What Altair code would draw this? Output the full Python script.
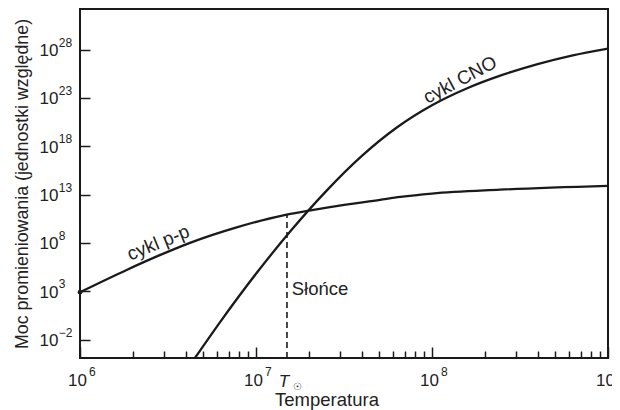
import altair as alt
import pandas as pd

# ---- data (exponents of ten) ----
PP_LOGT = [6.0, 6.265, 6.45, 6.625, 6.89, 7.155, 7.293, 7.42, 7.705, 7.82, 8.0, 8.386, 9.0]
PP_LOGP = [2.9, 5.2, 6.7, 8.0, 9.6, 10.85, 11.3, 11.7, 12.45, 12.75, 13.1, 13.5, 13.9]

CNO_LOGT = [6.653, 6.8, 7.0, 7.2, 7.4, 7.6, 7.8, 8.0, 8.2, 8.4, 8.6, 8.8, 9.0]
CNO_LOGP = [-3.91, -0.09, 4.8, 9.3, 13.38, 16.97, 19.93, 22.23, 23.99, 25.37, 26.49, 27.4, 28.1]

X_TICK_EXP = [6, 7, 8, 9]
X_MINOR_MULT = [2, 3, 4, 5, 6, 7, 8, 9]
Y_TICK_EXP = [-2, 3, 8, 13, 18, 23, 28]
X_DOMAIN_EXP = [6, 9]
Y_DOMAIN_EXP = [-3.91, 32.19]

SUN_LOGT = 7.176
SUN_TOP_LOGP = 10.92

LABELS = {
    "pp": ("cykl p-p", 6.445, 8.0),
    "cno": ("cykl CNO", 8.159, 24.85),
    "sun": ("Słońce", 7.203, 2.6),
}

X_TITLE = "Temperatura"
Y_TITLE = "Moc promieniowania (jednostki względne)"

# ---- style ----
INK = "#1a1a1a"
TXT = "#222222"
FONT = "Liberation Sans"

pp_df = pd.DataFrame({"T": [10 ** v for v in PP_LOGT], "P": [10 ** v for v in PP_LOGP]})
cno_df = pd.DataFrame({"T": [10 ** v for v in CNO_LOGT], "P": [10 ** v for v in CNO_LOGP]})
sun_df = pd.DataFrame({"T": [10 ** SUN_LOGT], "P0": [10 ** Y_DOMAIN_EXP[0]], "P1": [10 ** SUN_TOP_LOGP]})
dot_df = pd.DataFrame({"T": [10 ** PP_LOGT[0]], "P": [10 ** PP_LOGP[0]]})

x_major = [10.0 ** e for e in X_TICK_EXP]
x_minor = [m * 10.0 ** e for e in X_TICK_EXP[:-1] for m in X_MINOR_MULT]
y_major = [10.0 ** e for e in Y_TICK_EXP]

xs = alt.Scale(type="log", domain=[10.0 ** X_DOMAIN_EXP[0], 10.0 ** X_DOMAIN_EXP[1]], nice=False)
ys = alt.Scale(type="log", domain=[10.0 ** Y_DOMAIN_EXP[0], 10.0 ** Y_DOMAIN_EXP[1]], nice=False)

EXP_EXPR = "format(round(log(datum.value)/LN10), 'd')"

common = dict(grid=False, domain=False, labelFlush=False, labelOverlap=False,
              labelFont=FONT, labelColor=TXT, tickColor=INK)

# x axes
axA = alt.Axis(values=x_major, labelExpr="'10'", orient="bottom", offset=-11, tickSize=11,
               tickWidth=1.5, labelAlign="right", labelBaseline="alphabetic", labelOffset=6.5,
               labelPadding=27, labelFontSize=17, title=X_TITLE, titleFont=FONT,
               titleFontSize=18.5, titleFontWeight="normal", titleColor=TXT, titleX=246.5,
               titleY=58, titleAlign="center", titleBaseline="alphabetic", **common)
axB = alt.Axis(values=x_major, labelExpr=EXP_EXPR, orient="bottom", ticks=False, tickSize=0,
               labelAlign="left", labelBaseline="alphabetic", labelOffset=8.5, labelPadding=17,
               labelFontSize=12, title=None, **common)
axC = alt.Axis(values=x_minor, labels=False, orient="bottom", offset=-7, tickSize=7,
               tickWidth=1.5, title=None, **common)
axD = alt.Axis(values=[10 ** SUN_LOGT], labelExpr="'T'", orient="bottom", ticks=False, tickSize=0,
               labelAlign="center", labelBaseline="alphabetic", labelOffset=-3.5, labelPadding=28,
               labelFontSize=17, labelFontStyle="italic", title=None, **common)
axE = alt.Axis(values=[10 ** SUN_LOGT], labelExpr="'☉'", orient="bottom", ticks=False, tickSize=0,
               labelAlign="left", labelBaseline="middle", labelOffset=5.5, labelPadding=28.5,
               labelFontSize=10, title=None, **common)

# y axes
ayA = alt.Axis(values=y_major, labelExpr="'10'", orient="left", offset=-10, tickSize=10,
               tickWidth=1.5, labelAlign="right", labelBaseline="alphabetic", labelOffset=6,
               labelPadding=22, labelFontSize=17, title=Y_TITLE, titleFont=FONT,
               titleFontSize=17.8, titleFontWeight="normal", titleColor=TXT, titleX=-63,
               titleY=174.5, titleAngle=270, titleAlign="center", titleBaseline="alphabetic",
               **common)
ayB = alt.Axis(values=y_major, labelExpr=EXP_EXPR, orient="left", ticks=False, tickSize=0,
               labelAlign="left", labelBaseline="alphabetic", labelOffset=-3.3,
               labelPadding=21.7, labelFontSize=12, title=None, **common)

pp_line = alt.Chart(pp_df).mark_line(color=INK, strokeWidth=2.3, interpolate="monotone", clip=True).encode(
    x=alt.X("T:Q", scale=xs, axis=axA),
    y=alt.Y("P:Q", scale=ys, axis=ayA),
)
cno_line = alt.Chart(cno_df).mark_line(color=INK, strokeWidth=2.3, interpolate="monotone", clip=True).encode(
    x=alt.X("T:Q", scale=xs, axis=axB),
    y=alt.Y("P:Q", scale=ys, axis=ayB),
)
sun_rule = alt.Chart(sun_df).mark_rule(color=INK, strokeWidth=1.6, strokeDash=[6, 4]).encode(
    x=alt.X("T:Q", scale=xs, axis=axC),
    y=alt.Y("P0:Q", scale=ys, axis=None),
    y2="P1:Q",
)
dot = alt.Chart(dot_df).mark_circle(color=INK, size=22, opacity=1).encode(
    x=alt.X("T:Q", scale=xs, axis=axD),
    y=alt.Y("P:Q", scale=ys, axis=None),
)


def label_layer(key, angle, size, align, baseline, xaxis):
    text, lt, lp = LABELS[key]
    df = pd.DataFrame({"T": [10 ** lt], "P": [10 ** lp], "txt": [text]})
    return alt.Chart(df).mark_text(font=FONT, fontSize=size, color=TXT, angle=angle,
                                   align=align, baseline=baseline).encode(
        x=alt.X("T:Q", scale=xs, axis=xaxis),
        y=alt.Y("P:Q", scale=ys, axis=None),
        text="txt:N",
    )


lab_pp = label_layer("pp", 338, 19, "center", "middle", axE)
lab_cno = label_layer("cno", 332, 19, "center", "middle", None)
lab_sun = label_layer("sun", 0, 18.5, "left", "alphabetic", None)

chart = alt.layer(sun_rule, pp_line, cno_line, dot, lab_pp, lab_cno, lab_sun).resolve_axis(
    x="independent", y="independent"
).properties(
    width=528, height=349,
    padding={"left": 72, "top": 1, "right": 4, "bottom": 52},
    autosize=alt.AutoSizeParams(type="none"),
).configure_view(stroke=INK, strokeWidth=2)

chart.save("out.html", embed_options={"renderer": "svg", "actions": False})
